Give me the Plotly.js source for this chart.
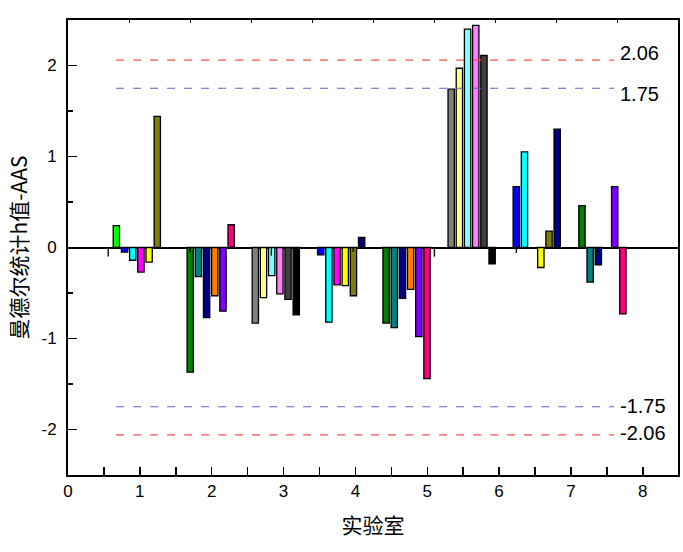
<!DOCTYPE html>
<html>
<head>
<meta charset="utf-8">
<script src="https://cdn.plot.ly/plotly-3.0.1.min.js"></script>
<style>
  html, body { margin: 0; padding: 0; background: #fff; }
  #chart { width: 683px; height: 552px; }
</style>
</head>
<body>
<div id="chart"></div>
<script>
// Mandel h statistic (AAS) for each laboratory, six results per laboratory
const labX = [0.958, 1.986, 2.892, 3.802, 4.712, 5.618, 6.524, 7.438];

const slot1 = [0.24, -1.37, -0.83, -0.08, -0.83, 1.74, 0.67, 0.46];
const slot2 = [-0.05, -0.32, -0.55, -0.82, -0.88, 1.97, 1.05, -0.38];
const slot3 = [-0.14, -0.77, -0.31, -0.41, -0.56, 2.40, null, -0.19];
const slot4 = [-0.27, -0.53, -0.51, -0.42, -0.46, 2.44, -0.22, null];
const slot5 = [-0.16, -0.70, -0.57, -0.53, -0.98, 2.11, 0.18, 0.67];
const slot6 = [1.44, 0.25, -0.74, 0.11, -1.44, -0.18, 1.30, -0.73];

// small near-zero results drawn as hairline bars
const hairX = [0.56, 1.70, 2.83, 3.97, 5.10, 6.24, 7.35];
const hairY = [-0.10, -0.05, -0.09, -0.05, -0.10, -0.06, -0.10];

// critical values of h
const critValues = [2.06, 1.75, -1.75, -2.06];
const critLabels = ['2.06', '1.75', '-1.75', '-2.06'];
const critSpan = [0.67, 7.6];

const xTicks = [0, 1, 2, 3, 4, 5, 6, 7, 8];
const yTicks = [-2, -1, 0, 1, 2];

// colour schemes per laboratory (style)
const colA0 = ['#00FF00', '#0000FF', '#00FFFF', '#FF00FF', '#FFFF00', '#808000'];
const colA  = ['#0000FF', '#00FFFF', '#FF00FF', '#FFFF00', '#808000', '#000080'];
const colB  = ['#008000', '#008080', '#000080', '#FF8000', '#8000FF', '#FF0080'];
const colC  = ['#808080', '#FFFF80', '#80FFFF', '#FF80FF', '#404040', '#000000'];
const labColours = [colA0, colB, colC, colA, colB, colC, colA, colB];

const slots = [slot1, slot2, slot3, slot4, slot5, slot6];
const pitch = 0.1139;
const barW = 0.088;

const traces = [];
slots.forEach((vals, s) => {
  traces.push({
    type: 'bar',
    x: labX,
    y: vals,
    width: barW,
    offset: (s - 3) * pitch + (pitch - barW) / 2,
    marker: {
      color: labColours.map(c => c[s]),
      line: { color: '#000', width: 1.3 }
    },
    hoverinfo: 'x+y',
    showlegend: false
  });
});

traces.push({
  type: 'bar',
  x: hairX,
  y: hairY,
  width: 0.02,
  marker: { color: '#111', line: { width: 0 } },
  showlegend: false,
  hoverinfo: 'skip'
});

const critColours = ['#ff4d4d', '#6060c4', '#6060c4', '#ff4d4d'];
critValues.forEach((v, i) => {
  traces.push({
    type: 'scatter',
    mode: 'lines',
    x: critSpan,
    y: [v, v],
    line: { color: critColours[i], width: 1.2, dash: '8px,9px' },
    showlegend: false,
    hoverinfo: 'skip'
  });
});

// carrier for the top frame axis
traces.push({
  type: 'scatter', mode: 'markers', x: [0], y: [null],
  xaxis: 'x2', yaxis: 'y', showlegend: false, hoverinfo: 'skip'
});

const labelShift = [7, -6, 1, 2];
const annotations = critValues.map((v, i) => ({
  x: 7.66, y: v, xref: 'x', yref: 'y',
  xanchor: 'left', yanchor: 'middle', yshift: labelShift[i],
  text: critLabels[i], showarrow: false,
  font: { family: 'Liberation Sans, Arial, sans-serif', size: 20, color: '#000' }
}));

const tickFont = { family: 'Liberation Sans, Arial, sans-serif', size: 17, color: '#000' };
const cjkFont = { family: 'Noto Sans CJK SC, sans-serif', size: 21, color: '#000' };

const layout = {
  width: 683, height: 552,
  margin: { l: 67.5, r: 4.5, t: 20, b: 77 },
  paper_bgcolor: '#fff', plot_bgcolor: '#fff',
  barmode: 'overlay',
  showlegend: false,
  xaxis: {
    range: [0, 8.49],
    tickvals: xTicks,
    ticktext: xTicks.map(String),
    ticks: 'inside', ticklen: 4, tickwidth: 1.5, tickcolor: '#000',
    minor: { dtick: 0.5, tick0: 0, ticks: 'inside', ticklen: 8, tickwidth: 1.5, tickcolor: '#000' },
    showline: true, linecolor: '#000', linewidth: 2, mirror: true,
    showgrid: false, zeroline: false,
    tickfont: tickFont,
    title: { text: '实验室', font: cjkFont, standoff: 18 }
  },
  xaxis2: {
    overlaying: 'x', side: 'top', range: [0, 10], dtick: 1, tick0: 0,
    ticks: 'inside', ticklen: 3, tickwidth: 1, tickcolor: '#000',
    showticklabels: false, showgrid: false, zeroline: false,
    showline: true, linecolor: '#000', linewidth: 2
  },
  yaxis: {
    range: [-2.5, 2.5],
    tickvals: yTicks,
    ticktext: yTicks.map(String),
    ticks: 'inside', ticklen: 9, tickwidth: 1.5, tickcolor: '#000',
    minor: { dtick: 0.5, tick0: 0, ticks: 'inside', ticklen: 5, tickwidth: 1.5, tickcolor: '#000' },
    showline: true, linecolor: '#000', linewidth: 2, mirror: true,
    showgrid: false,
    zeroline: true, zerolinecolor: '#000', zerolinewidth: 2,
    tickfont: tickFont,
    ticklabelstandoff: 6,
    title: { text: '曼德尔统计h值-AAS', font: cjkFont, standoff: 8 }
  },
  annotations: annotations
};

Plotly.newPlot('chart', traces, layout, { staticPlot: true, displayModeBar: false });
</script>
</body>
</html>
